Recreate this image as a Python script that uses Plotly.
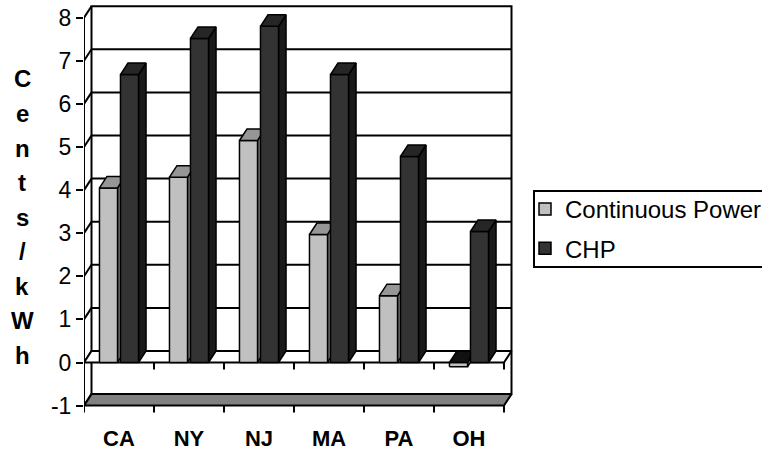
import plotly.graph_objects as go

# ---- data -------------------------------------------------------------
states = ["CA", "NY", "NJ", "MA", "PA", "OH"]
continuous_power = [4.05, 4.3, 5.15, 2.97, 1.55, -0.1]
chp = [6.68, 7.52, 7.8, 6.68, 4.78, 3.04]
y_tick_values = [-1, 0, 1, 2, 3, 4, 5, 6, 7, 8]
y_tick_labels = ["-1", "0", "1", "2", "3", "4", "5", "6", "7", "8"]
axis_title = "Cents/kWh"
series_names = ["Continuous Power", "CHP"]

# ---- layout geometry (pixel scale of the plotting area) ---------------
W_PX, H_PX = 762, 456
L, R, T, B = 84, 242, 2, 33
PX_PER_X = 70.0          # one category slot
PX_PER_Y = 43.1          # one cent/kWh
ZERO_PX = 362.5          # where value 0 sits on the front axis
plot_w = W_PX - L - R
plot_h = H_PX - T - B
x_range = [-0.5, -0.5 + plot_w / PX_PER_X]
y_range = [(ZERO_PX - (T + plot_h)) / PX_PER_Y, (ZERO_PX - T) / PX_PER_Y]

# depth offset of the pseudo-3D box, in data units
DX = 7.5 / PX_PER_X
DY = 11.5 / PX_PER_Y
YMIN, YMAX = y_tick_values[0], y_tick_values[-1]
X0, X1 = -0.5, len(states) - 0.5
BAR_W = 0.258
OFFSETS = (-0.15, 0.15)

FONT = "Arial, Liberation Sans, sans-serif"
INK = "black"


def segments(pairs):
    """Join line segments / polygons into one x,y list split by None."""
    xs, ys = [], []
    for pts in pairs:
        for px, py in pts:
            xs.append(px)
            ys.append(py)
        xs.append(None)
        ys.append(None)
    return xs, ys


def line_trace(pairs, width=2, color=INK):
    xs, ys = segments(pairs)
    return go.Scatter(x=xs, y=ys, mode="lines", showlegend=False,
                      hoverinfo="skip", line=dict(color=color, width=width))


def poly_trace(polys, fill, width=1.5):
    closed = [p + [p[0]] for p in polys]
    xs, ys = segments(closed)
    return go.Scatter(x=xs, y=ys, mode="lines", fill="toself",
                      fillcolor=fill, showlegend=False, hoverinfo="skip",
                      line=dict(color=INK, width=width))


fig = go.Figure()

# back wall with its gridlines
back = [[(X0 + DX, YMIN + DY), (X1 + DX, YMIN + DY), (X1 + DX, YMAX + DY),
         (X0 + DX, YMAX + DY)]]
fig.add_trace(poly_trace(back, "white", width=2))
grid = [[(X0 + DX, v + DY), (X1 + DX, v + DY)] for v in y_tick_values[1:-1]]
fig.add_trace(line_trace(grid))

# left side wall: diagonal gridlines joining front axis to back wall
side = [[(X0, v), (X0 + DX, v + DY)] for v in y_tick_values]
fig.add_trace(line_trace(side))

# plane at value 0 and the floor slab at the axis minimum
zero_plane = [[(X0, 0), (X1, 0), (X1 + DX, DY), (X0 + DX, DY)]]
fig.add_trace(poly_trace(zero_plane, "white", width=2))
floor = [[(X0, YMIN), (X1, YMIN), (X1 + DX, YMIN + DY), (X0 + DX, YMIN + DY)]]
fig.add_trace(poly_trace(floor, "#808080", width=2))

# front value axis and category tick marks
tick_len = 7 / PX_PER_Y
front_axis = [[(X0, YMIN), (X0, YMAX)]]
cat_ticks = []
for k in range(len(states) + 1):
    cat_ticks.append([(X0 + k, 0), (X0 + k, -tick_len)])
    cat_ticks.append([(X0 + k, YMIN), (X0 + k, YMIN - tick_len)])
fig.add_trace(line_trace(front_axis + cat_ticks))

# 3-D columns
palettes = [
    dict(front="#C0C0C0", top="#969696", side="#808080"),
    dict(front="#333333", top="#262626", side="#1A1A1A"),
]
for values, offset, pal in zip([continuous_power, chp], OFFSETS, palettes):
    fronts, tops, sides, neg_tops = [], [], [], []
    for i, v in enumerate(values):
        xa = i + offset - BAR_W / 2
        xb = i + offset + BAR_W / 2
        lo, hi = min(0, v), max(0, v)
        sides.append([(xb, lo), (xb + DX, lo + DY), (xb + DX, hi + DY), (xb, hi)])
        fronts.append([(xa, lo), (xb, lo), (xb, hi), (xa, hi)])
        top = [(xa, hi), (xb, hi), (xb + DX, hi + DY), (xa + DX, hi + DY)]
        (neg_tops if v < 0 else tops).append(top)
    fig.add_trace(poly_trace(sides, pal["side"]))
    fig.add_trace(poly_trace(fronts, pal["front"]))
    fig.add_trace(poly_trace(tops, pal["top"]))
    if neg_tops:
        fig.add_trace(poly_trace(neg_tops, "#111111"))

# legend entries
for name, pal in zip(series_names, palettes):
    fig.add_trace(go.Bar(x=[None], y=[None], name=name, legendgroup=name,
                         marker=dict(color=pal["front"],
                                     line=dict(color=INK, width=1.5))))

# vertical, letter-stacked axis title
annotations = []
for j, ch in enumerate(axis_title):
    ypx = 79 + 34.5 * j
    annotations.append(dict(
        text=f"<b>{ch}</b>", xref="paper", yref="paper",
        x=(22 - L) / plot_w, y=1 - (ypx - T) / plot_h,
        xanchor="center", yanchor="middle", showarrow=False,
        font=dict(family=FONT, size=24, color=INK)))

# legend frame
shapes = [dict(type="rect", xref="paper", yref="paper",
               x0=(534 - L) / plot_w, x1=(780 - L) / plot_w,
               y0=1 - (267 - T) / plot_h, y1=1 - (191 - T) / plot_h,
               line=dict(color=INK, width=2), fillcolor="rgba(0,0,0,0)")]

fig.update_layout(
    width=W_PX, height=H_PX,
    margin=dict(l=L, r=R, t=T, b=B, autoexpand=False),
    paper_bgcolor="white", plot_bgcolor="white",
    font=dict(family=FONT, color=INK),
    barmode="overlay",
    showlegend=True,
    legend=dict(x=(525 - L) / plot_w, y=1 - (187 - T) / plot_h,
                xanchor="left", yanchor="top",
                font=dict(family=FONT, size=24, color=INK),
                bgcolor="rgba(0,0,0,0)", borderwidth=0,
                traceorder="grouped", tracegroupgap=5),
    annotations=annotations,
    shapes=shapes,
    xaxis=dict(range=x_range, tickmode="array",
               tickvals=list(range(len(states))), ticktext=states,
               showgrid=False, zeroline=False, showline=False, ticks="",
               tickfont=dict(family=FONT, size=22, color=INK, weight="bold"),
               fixedrange=True),
    yaxis=dict(range=y_range, tickmode="array", tickvals=y_tick_values,
               ticktext=y_tick_labels,
               showgrid=False, zeroline=False, showline=False,
               ticks="outside", ticklen=7, tickwidth=2, tickcolor=INK,
               tickfont=dict(family=FONT, size=23, color=INK),
               fixedrange=True),
)

fig.write_html("out.html")
